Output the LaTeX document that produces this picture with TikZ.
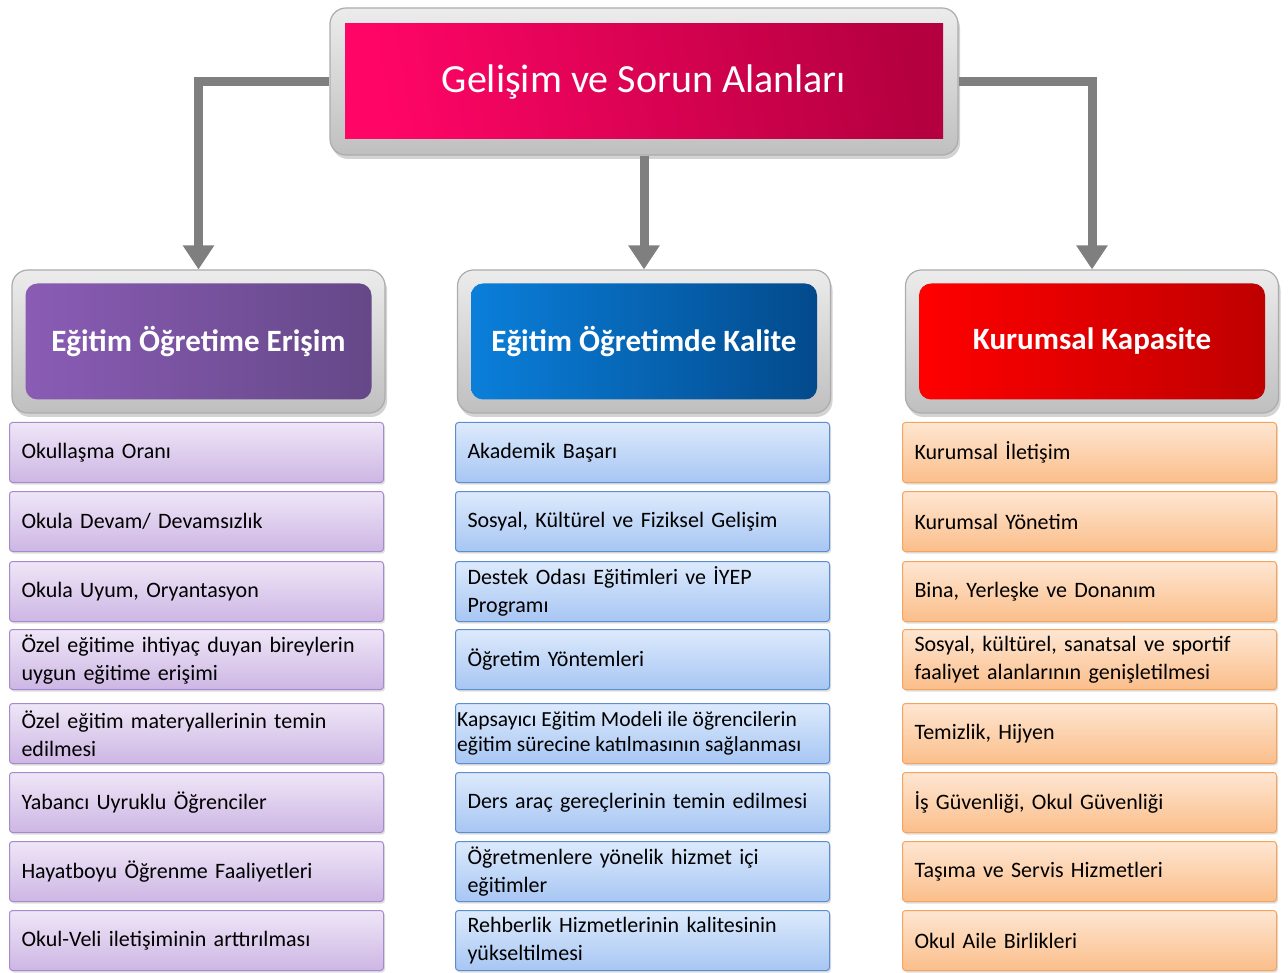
\documentclass[tikz,border=0pt]{standalone}
\usepackage{fontspec}
\setmainfont{Carlito}
\usetikzlibrary{arrows.meta,shadows}

\definecolor{rootL}{HTML}{FF0566}
\definecolor{rootR}{HTML}{B5003F}
\definecolor{purL}{HTML}{8A5CB5}
\definecolor{purR}{HTML}{654888}
\definecolor{bluL}{HTML}{0A7FDA}
\definecolor{bluR}{HTML}{034A8C}
\definecolor{redL}{HTML}{FF0000}
\definecolor{redR}{HTML}{BE0000}
\definecolor{purTop}{HTML}{EFE6F7}
\definecolor{purBot}{HTML}{CDB6E4}
\definecolor{purLine}{HTML}{A58BCB}
\definecolor{bluTop}{HTML}{DDEAFC}
\definecolor{bluBot}{HTML}{A7C6F3}
\definecolor{bluLine}{HTML}{5D8FCE}
\definecolor{orgTop}{HTML}{FEE6D2}
\definecolor{orgBot}{HTML}{FBBE8A}
\definecolor{orgLine}{HTML}{F5A35D}
\definecolor{connGray}{HTML}{7F7F7F}

\newcommand\rootfont{\fontsize{40}{46}\selectfont}
\newcommand\hdrfont{\fontsize{31}{36}\selectfont\bfseries}
\newcommand\itemfont{\fontsize{22}{28}\selectfont}

\tikzset{
    frame/.style={draw=gray!65, line width=1.2pt, rounded corners=16pt,
        top color=gray!15, bottom color=gray!50,
        drop shadow={opacity=0.35, shadow xshift=2pt, shadow yshift=-4pt}},
    rootin/.style={left color=rootL, right color=rootR, shading angle=100,
        text=white, font=\rootfont, minimum width=598pt, minimum height=115pt},
    hdrin/.style={rounded corners=12pt, text=white, font=\hdrfont,
        minimum width=346pt, minimum height=116pt},
    itembox/.style={rounded corners=3pt, line width=1pt, anchor=north west,
        minimum width=374pt, minimum height=60pt, text width=350pt,
        inner xsep=12pt, align=left, font=\itemfont,
        drop shadow={opacity=0.25, shadow xshift=1.5pt, shadow yshift=-2pt}},
    itemA/.style={itembox, draw=purLine, top color=purTop, bottom color=purBot},
    itemB/.style={itembox, draw=bluLine, top color=bluTop, bottom color=bluBot},
    itemC/.style={itembox, draw=orgLine, top color=orgTop, bottom color=orgBot},
    conn/.style={draw=connGray, line width=9pt,
        -{Triangle[width=30pt,length=24pt]}}
}

\begin{document}
\begin{tikzpicture}[x=1pt,y=-1pt]
    \useasboundingbox (0,0) rectangle (1288,973);

    % top box
    \node[frame, minimum width=628pt, minimum height=147pt] (root) at (644,81.5) {};
    \node[rootin] (rootin) at (root.center) {Gelişim ve Sorun Alanları};

    % three headers
    \node[frame, minimum width=373pt, minimum height=143pt] (hdrA) at (198.5,341.5) {};
    \node[hdrin, left color=purL, right color=purR] (hdrAin) at (hdrA.center) {Eğitim Öğretime Erişim};
    \node[frame, minimum width=373pt, minimum height=143pt] (hdrB) at (644,341.5) {};
    \node[hdrin, left color=bluL, right color=bluR] (hdrBin) at (hdrB.center) {Eğitim Öğretimde Kalite};
    \node[frame, minimum width=373pt, minimum height=143pt] (hdrC) at (1092,341.5) {};
    \node[hdrin, left color=redL, right color=redR] (hdrCin) at (hdrC.center) {Kurumsal Kapasite};

    % connectors
    \draw[conn] (root.west) -| (hdrA.north);
    \draw[conn] (root.south) -- (hdrB.north);
    \draw[conn] (root.east) -| (hdrC.north);

    % left column
    \foreach \t/\y [count=\i] in {
        {Okullaşma Oranı}/422,
        {Okula Devam/ Devamsızlık}/491,
        {Okula Uyum, Oryantasyon}/561,
        {Özel eğitime ihtiyaç duyan bireylerin\\uygun eğitime erişimi}/629,
        {Özel eğitim materyallerinin temin\\edilmesi}/703,
        {Yabancı Uyruklu Öğrenciler}/772,
        {Hayatboyu Öğrenme Faaliyetleri}/841,
        {Okul-Veli iletişiminin arttırılması}/910}{
        \node[itemA] (a\i) at (9,\y) {\t};
    }

    % middle column
    \foreach \t/\y [count=\i] in {
        {Akademik Başarı}/422,
        {Sosyal, Kültürel ve Fiziksel Gelişim}/491,
        {Destek Odası Eğitimleri ve İYEP\\Programı}/561,
        {Öğretim Yöntemleri}/629,
        {}/703,
        {Ders araç gereçlerinin temin edilmesi}/772,
        {Öğretmenlere yönelik hizmet içi\\eğitimler}/841,
        {Rehberlik Hizmetlerinin kalitesinin\\yükseltilmesi}/910}{
        \node[itemB] (b\i) at (455,\y) {\t};
    }
    \node[anchor=west, align=left, font=\fontsize{21.5}{25}\selectfont, inner sep=0pt]
        (b5txt) at ([xshift=2pt]b5.west) {Kapsayıcı Eğitim Modeli ile öğrencilerin\\eğitim sürecine katılmasının sağlanması};

    % right column
    \foreach \t/\y [count=\i] in {
        {Kurumsal İletişim}/422,
        {Kurumsal Yönetim}/491,
        {Bina, Yerleşke ve Donanım}/561,
        {Sosyal, kültürel, sanatsal ve sportif\\faaliyet alanlarının genişletilmesi}/629,
        {Temizlik, Hijyen}/703,
        {İş Güvenliği, Okul Güvenliği}/772,
        {Taşıma ve Servis Hizmetleri}/841,
        {Okul Aile Birlikleri}/910}{
        \node[itemC] (c\i) at (902,\y) {\t};
    }
\end{tikzpicture}
\end{document}
